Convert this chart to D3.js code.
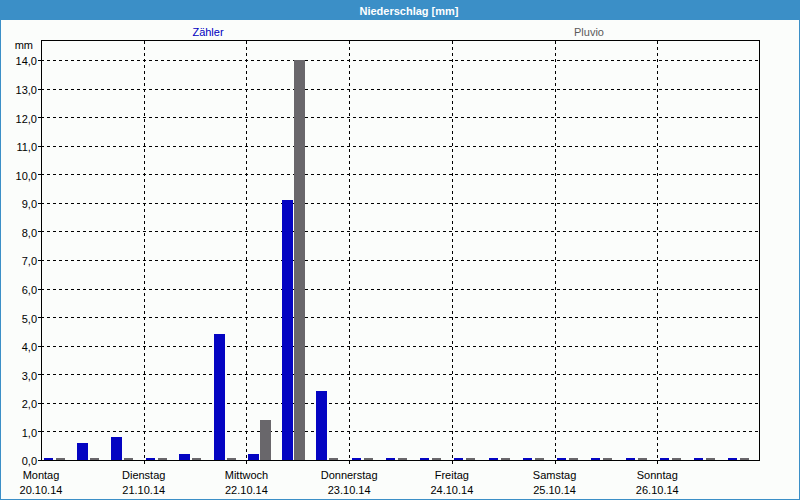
<!DOCTYPE html>
<html>
<head>
<meta charset="utf-8">
<script src="https://cdn.jsdelivr.net/npm/d3@7"></script>
<style>
  html, body { margin: 0; padding: 0; background: #fbfdfb; }
  svg { display: block; font-family: "Liberation Sans", Arial, sans-serif; }
</style>
</head>
<body>
<svg id="chart" width="800" height="500"></svg>
<script>
// ---- data ----
const title = "Niederschlag [mm]";
const unitLabel = "mm";
const seriesNames = ["Zähler", "Pluvio"];
const dayNames = ["Montag", "Dienstag", "Mittwoch", "Donnerstag", "Freitag", "Samstag", "Sonntag"];
const dayDates = ["20.10.14", "21.10.14", "22.10.14", "23.10.14", "24.10.14", "25.10.14", "26.10.14"];
const slotHours = ["00:00", "08:00", "16:00"];
const zaehler = [0, 0.6, 0.8,  0, 0.2, 4.4,  0.2, 9.1, 2.4,  0, 0, 0,  0, 0, 0,  0, 0, 0,  0, 0, 0];
const pluvio  = [0, 0, 0,      0, 0, 0,      1.4, 14.0, 0,   0, 0, 0,  0, 0, 0,  0, 0, 0,  0, 0, 0];
const yTicks = [0, 1, 2, 3, 4, 5, 6, 7, 8, 9, 10, 11, 12, 13, 14];

// ---- styling / layout ----
const W = 800, H = 500;
const m = { left: 41, right: 760, top: 40, bottom: 460 };
const colors = { "Zähler": "#0404c2", "Pluvio": "#69676b" };
const legendColors = { "Zähler": "#0000c0", "Pluvio": "#5a5a5a" };
const frameBlue = "#3b8fc7";

const svg = d3.select("#chart");

// background
svg.append("rect").attr("x", 0).attr("y", 0).attr("width", W).attr("height", H).attr("fill", "#fbfdfb");
// title bar
svg.append("rect").attr("x", 0).attr("y", 0).attr("width", W).attr("height", 20).attr("fill", frameBlue);
svg.append("text").attr("x", 409).attr("y", 15).attr("text-anchor", "middle")
  .attr("fill", "#ffffff").attr("font-size", 11).attr("font-weight", "bold").text(title);
// outer border
svg.append("rect").attr("x", 0.5).attr("y", 0.5).attr("width", W - 1).attr("height", H - 1)
  .attr("fill", "none").attr("stroke", frameBlue).attr("stroke-width", 1);

// legend
const legendX = { "Zähler": 208, "Pluvio": 589 };
seriesNames.forEach(s => {
  svg.append("text").attr("x", legendX[s]).attr("y", 36).attr("text-anchor", "middle")
    .attr("font-size", 11).attr("fill", legendColors[s]).text(s);
});

// scales
const slots = [];
dayDates.forEach(d => slotHours.forEach(h => slots.push(d + " " + h)));
const x = d3.scaleBand().domain(slots).range([m.left, m.right]).padding(0);
const xDay = d3.scaleBand().domain(dayDates).range([m.left, m.right]).padding(0);
const y = d3.scaleLinear().domain([0, 14]).range([m.bottom, m.top + 20]);
const inner = d3.scaleBand().domain(seriesNames)
  .range([x.bandwidth() * 0.044, x.bandwidth() * 0.716]).paddingInner(0.0833).paddingOuter(0);

const fmt = v => d3.format(".1f")(v).replace(".", ",");

// horizontal grid (dashed)
const gy = svg.append("g").attr("transform", `translate(${m.left},0)`)
  .call(d3.axisLeft(y).tickValues(yTicks.filter(v => v > 0)).tickSize(-(m.right - m.left)).tickFormat(""));
gy.select(".domain").remove();
gy.selectAll(".tick line").attr("stroke", "#000").attr("stroke-dasharray", "3,3")
  .attr("shape-rendering", "crispEdges");

// vertical day grid (dashed)
const gx = svg.append("g").attr("transform", `translate(0,${m.bottom})`)
  .call(d3.axisBottom(xDay).tickValues(dayDates.slice(1)).tickSize(-(m.bottom - m.top)).tickFormat("")
    .offset(0));
gx.select(".domain").remove();
gx.selectAll(".tick").attr("transform", d => `translate(${Math.round(xDay(d)) + 0.5},0)`);
gx.selectAll(".tick line").attr("stroke", "#000").attr("stroke-dasharray", "3,3")
  .attr("y1", 4).attr("shape-rendering", "crispEdges");

// bars
const rows = slots.map((s, i) => ({ slot: s, values: [
  { series: "Zähler", v: zaehler[i] }, { series: "Pluvio", v: pluvio[i] } ] }));
const groups = svg.append("g").selectAll("g").data(rows).join("g")
  .attr("transform", d => `translate(${x(d.slot)},0)`);
groups.selectAll("rect").data(d => d.values).join("rect")
  .attr("x", d => inner(d.series) + (d.v === 0 ? 1 : 0))
  .attr("width", d => inner.bandwidth() - (d.v === 0 ? 2 : 0))
  .attr("y", d => d.v === 0 ? y(0) - 2 : y(d.v))
  .attr("height", d => d.v === 0 ? 2 : y(0) - y(d.v))
  .attr("fill", d => colors[d.series])
  .attr("shape-rendering", "crispEdges");

// frame
svg.append("rect").attr("x", m.left + 0.5).attr("y", m.top + 0.5)
  .attr("width", m.right - m.left - 1).attr("height", m.bottom - m.top)
  .attr("fill", "none").attr("stroke", "#000").attr("stroke-width", 1).attr("shape-rendering", "crispEdges");

// y axis labels
const ay = svg.append("g").attr("transform", `translate(${m.left},0)`)
  .call(d3.axisLeft(y).tickValues(yTicks).tickSize(3).tickPadding(1).tickFormat(fmt));
ay.select(".domain").remove();
ay.selectAll(".tick line").attr("stroke", "#000").attr("shape-rendering", "crispEdges");
ay.selectAll(".tick text").attr("font-size", 11).attr("fill", "#000")
  .attr("font-family", "Liberation Sans, Arial, sans-serif").attr("dy", "0.45em");
svg.append("text").attr("x", 33).attr("y", 49).attr("text-anchor", "end")
  .attr("font-size", 11).attr("fill", "#000").text(unitLabel);

// x labels
const xl = svg.append("g");
dayDates.forEach((d, i) => {
  const cx = xDay(d);
  xl.append("text").attr("x", cx).attr("y", 479).attr("text-anchor", "middle")
    .attr("font-size", 11).attr("fill", "#000").text(dayNames[i]);
  xl.append("text").attr("x", cx).attr("y", 494).attr("text-anchor", "middle")
    .attr("font-size", 11).attr("fill", "#000").text(d);
});
</script>
</body>
</html>
